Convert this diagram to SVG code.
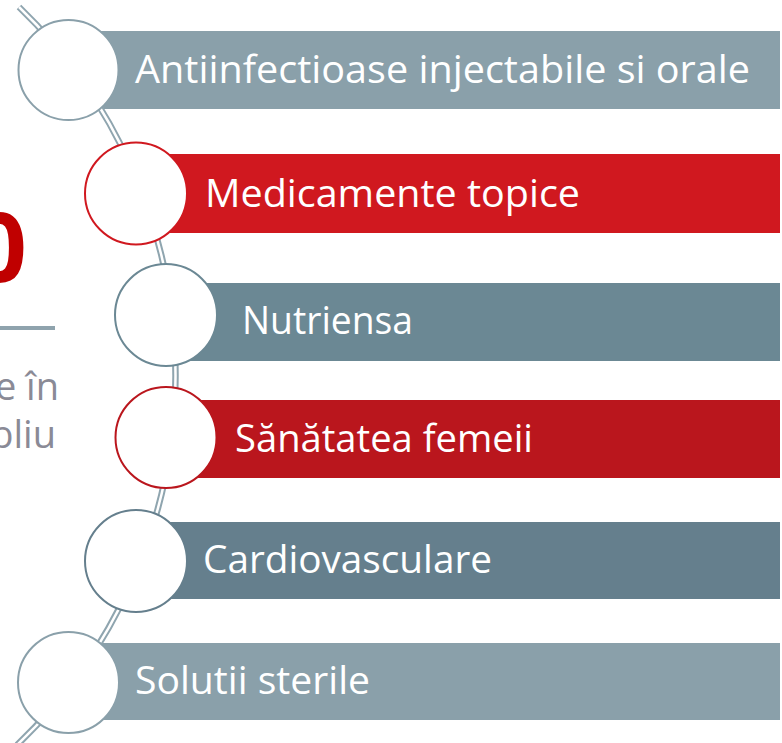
<svg xmlns="http://www.w3.org/2000/svg" width="782" height="743" viewBox="0 0 782 743">
<style>
.lbl{font-family:"Open Sans","Liberation Sans",sans-serif;font-size:39px;fill:#ffffff}
.side{font-family:"Open Sans","Liberation Sans",sans-serif;font-size:38px;fill:#8A8A96}
.node circle{fill:#ffffff;stroke-width:2}
</style>
<rect width="782" height="743" fill="#ffffff"/>
<g id="side-text">
<text x="27" y="282" text-anchor="end" style="font-family:'Open Sans','Liberation Sans',sans-serif;font-size:96px;font-weight:bold;fill:#C00000">0</text>
<rect x="-5" y="326" width="60" height="4" fill="#8FA3AD"/>
<text class="side" x="59" y="400" text-anchor="end">e în</text>
<text class="side" x="56" y="448" text-anchor="end">bliu</text>
</g>
<g id="bars">
<rect x="68" y="31" width="712" height="78" fill="#8AA0AA"/>
<rect x="136" y="154" width="644" height="79" fill="#D0181F"/>
<rect x="166" y="283" width="614" height="78" fill="#6B8894"/>
<rect x="166" y="400" width="614" height="78" fill="#BA161D"/>
<rect x="136" y="522" width="644" height="77" fill="#657F8D"/>
<rect x="68" y="643" width="712" height="77" fill="#8AA0AA"/>
</g>
<g id="connectors">
<path d="M19 7 A511 511 0 0 1 17 745" fill="none" stroke="#8FA5AF" stroke-width="6.5"/>
<path d="M19 7 A511 511 0 0 1 17 745" fill="none" stroke="#ffffff" stroke-width="2.5"/>
</g>
<g id="node1" class="node">
<circle cx="68.5" cy="70" r="50" stroke="#8AA0AA"/>
<text class="lbl" x="135" y="83" textLength="615" lengthAdjust="spacingAndGlyphs">Antiinfectioase  injectabile si orale</text>
</g>
<g id="node2" class="node">
<circle cx="136" cy="193.5" r="51" stroke="#D0181F"/>
<text class="lbl" x="205" y="207" textLength="375" lengthAdjust="spacingAndGlyphs">Medicamente topice</text>
</g>
<g id="node3" class="node">
<circle cx="166" cy="315" r="51" stroke="#6B8894"/>
<text class="lbl" x="242" y="334" textLength="171" lengthAdjust="spacingAndGlyphs">Nutriensa</text>
</g>
<g id="node4" class="node">
<circle cx="166" cy="437.5" r="50.5" stroke="#BA161D"/>
<text class="lbl" x="235" y="452" textLength="298" lengthAdjust="spacingAndGlyphs">Sănătatea femeii</text>
</g>
<g id="node5" class="node">
<circle cx="136" cy="561" r="51" stroke="#657F8D"/>
<text class="lbl" x="203" y="573" textLength="289" lengthAdjust="spacingAndGlyphs">Cardiovasculare</text>
</g>
<g id="node6" class="node">
<circle cx="68.5" cy="682.5" r="50.5" stroke="#8AA0AA"/>
<text class="lbl" x="135" y="694" textLength="235" lengthAdjust="spacingAndGlyphs">Solutii sterile</text>
</g>
</svg>
